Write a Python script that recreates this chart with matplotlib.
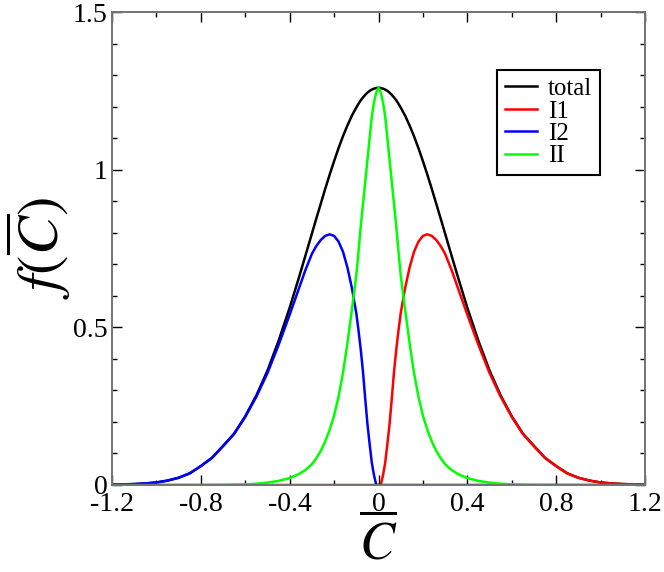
import matplotlib
matplotlib.use('Agg')
import matplotlib.pyplot as plt
from matplotlib.ticker import MultipleLocator

plt.rcParams['font.family'] = ['Liberation Serif', 'DejaVu Serif']
plt.rcParams['mathtext.fontset'] = 'stix'
plt.rcParams['axes.unicode_minus'] = False

# x grid
c_bar = [-1.20, -1.10, -1.05, -1.00, -0.95, -0.90, -0.85, -0.80, -0.75, -0.70,
         -0.65, -0.60, -0.55, -0.50, -0.45, -0.40, -0.36, -0.33, -0.30, -0.28,
         -0.26, -0.24, -0.22, -0.20, -0.18, -0.16, -0.14, -0.12, -0.10, -0.09,
         -0.08, -0.07, -0.06, -0.05, -0.04, -0.03, -0.02, -0.01,
         0.00,
         0.01, 0.02, 0.03, 0.04, 0.05, 0.06, 0.07, 0.08, 0.09, 0.10,
         0.12, 0.14, 0.16, 0.18, 0.20, 0.22, 0.24, 0.26, 0.28, 0.30,
         0.33, 0.36, 0.40, 0.45, 0.50, 0.55, 0.60, 0.65, 0.70, 0.75,
         0.80, 0.85, 0.90, 0.95, 1.00, 1.05, 1.10, 1.20]

total = [0.001, 0.003, 0.005, 0.008, 0.014, 0.023, 0.037, 0.060, 0.086, 0.124,
         0.163, 0.218, 0.284, 0.363, 0.457, 0.562, 0.654, 0.725, 0.797, 0.845,
         0.892, 0.939, 0.984, 1.027, 1.068, 1.106, 1.140, 1.171, 1.197, 1.209,
         1.220, 1.229, 1.237, 1.244, 1.250, 1.254, 1.257, 1.259,
         1.260,
         1.259, 1.257, 1.254, 1.250, 1.244, 1.237, 1.229, 1.220, 1.209, 1.197,
         1.171, 1.140, 1.106, 1.068, 1.027, 0.984, 0.939, 0.892, 0.845, 0.797,
         0.725, 0.654, 0.562, 0.457, 0.363, 0.284, 0.218, 0.163, 0.124, 0.086,
         0.060, 0.037, 0.023, 0.014, 0.008, 0.005, 0.003, 0.001]

i1 = [0, 0, 0, 0, 0, 0, 0, 0, 0, 0,
      0, 0, 0, 0, 0, 0, 0, 0, 0, 0,
      0, 0, 0, 0, 0, 0, 0, 0, 0, 0,
      0, 0, 0, 0, 0, 0, 0, 0,
      0,
      0, 0.030, 0.070, 0.130, 0.195, 0.275, 0.360, 0.430, 0.490, 0.545,
      0.625, 0.690, 0.740, 0.772, 0.790, 0.795, 0.790, 0.777, 0.758, 0.733,
      0.680, 0.620, 0.540, 0.444, 0.355, 0.280, 0.216, 0.162, 0.123, 0.086,
      0.060, 0.037, 0.023, 0.014, 0.008, 0.005, 0.003, 0.001]

i2 = [0.001, 0.003, 0.005, 0.008, 0.014, 0.023, 0.037, 0.060, 0.086, 0.123,
      0.162, 0.216, 0.280, 0.355, 0.444, 0.540, 0.620, 0.680, 0.733, 0.758,
      0.777, 0.790, 0.795, 0.790, 0.772, 0.740, 0.690, 0.625, 0.545, 0.490,
      0.430, 0.360, 0.275, 0.195, 0.130, 0.070, 0.030, 0,
      0,
      0, 0, 0, 0, 0, 0, 0, 0, 0, 0,
      0, 0, 0, 0, 0, 0, 0, 0, 0, 0,
      0, 0, 0, 0, 0, 0, 0, 0, 0, 0,
      0, 0, 0, 0, 0, 0, 0, 0]

ii = [0, 0, 0, 0, 0, 0, 0, 0, 0.0003, 0.0006,
      0.0012, 0.0022, 0.004, 0.0075, 0.013, 0.022, 0.034, 0.047, 0.066, 0.085,
      0.108, 0.138, 0.175, 0.220, 0.280, 0.355, 0.450, 0.555, 0.665, 0.740,
      0.820, 0.890, 0.960, 1.030, 1.100, 1.170, 1.215, 1.245,
      1.260,
      1.245, 1.215, 1.170, 1.100, 1.030, 0.960, 0.890, 0.820, 0.740, 0.665,
      0.555, 0.450, 0.355, 0.280, 0.220, 0.175, 0.138, 0.108, 0.085, 0.066,
      0.047, 0.034, 0.022, 0.013, 0.0075, 0.004, 0.0022, 0.0012, 0.0006, 0.0003,
      0, 0, 0, 0, 0, 0, 0, 0]

x_ticks = [-1.2, -0.8, -0.4, 0, 0.4, 0.8, 1.2]
x_tick_labels = ['-1.2', '-0.8', '-0.4', '0', '0.4', '0.8', '1.2']
y_ticks = [0, 0.5, 1, 1.5]
y_tick_labels = ['0', '0.5', '1', '1.5']

fig = plt.figure(figsize=(6.64, 5.72), dpi=100)
ax = fig.add_axes([112/664, 1 - 485/572, 533/664, 473/572])

ax.plot(c_bar, total, color='black', lw=1.8, label='total')
ax.plot(c_bar, i1, color='#ff0000', lw=1.8, label='I1')
ax.plot(c_bar, i2, color='#0000ff', lw=1.8, label='I2')
ax.plot(c_bar, ii, color='#00ff00', lw=1.8, label='II')

ax.set_xlim(-1.2, 1.2)
ax.set_ylim(0, 1.5)
ax.set_xticks(x_ticks)
ax.set_xticklabels(x_tick_labels)
ax.set_yticks(y_ticks)
ax.set_yticklabels(y_tick_labels)
ax.xaxis.set_minor_locator(MultipleLocator(0.2))
ax.yaxis.set_minor_locator(MultipleLocator(0.1))
ax.tick_params(which='both', direction='in', top=True, right=True, labelsize=20)
ax.tick_params(which='major', length=7, width=1)
ax.tick_params(which='minor', length=3.6, width=1)
ax.tick_params(axis='x', pad=5)
ax.tick_params(axis='y', pad=3)
for sp in ax.spines.values():
    sp.set_color('0.45')
    sp.set_linewidth(1.4)

fig.text(38/664, 1 - 248/572, r'$f(\overline{C})$', fontsize=42,
         rotation=90, ha='center', va='center')
fig.text(378/664, 1 - 543/572, r'$\overline{C}$', fontsize=38,
         ha='center', va='center')

leg = ax.legend(loc='upper left', bbox_to_anchor=(497/664, 1 - 70/572),
                bbox_transform=fig.transFigure, fontsize=18, frameon=True,
                fancybox=False, framealpha=1, edgecolor='black',
                handlelength=1.3, handletextpad=0.45, labelspacing=0.0,
                borderpad=0.3, borderaxespad=0)
leg.get_frame().set_linewidth(1.5)

fig.savefig('out.png', dpi=100)
